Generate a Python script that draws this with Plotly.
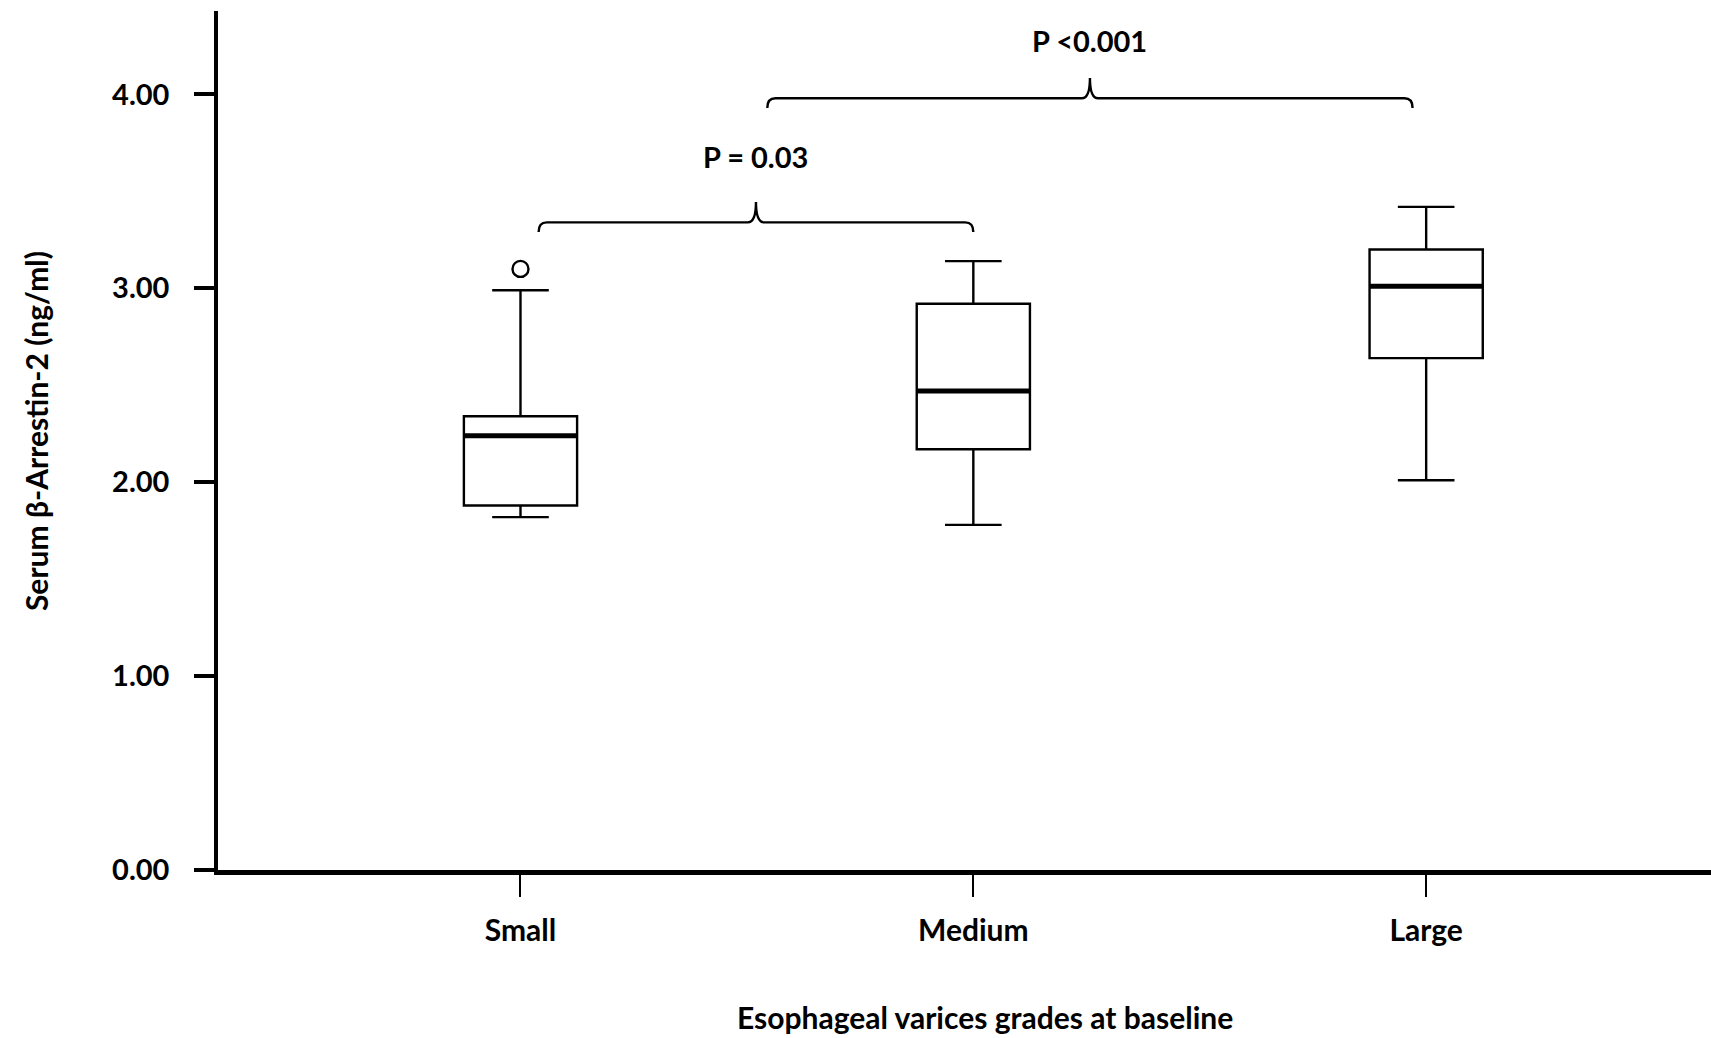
import plotly.graph_objects as go

# ---- data ----
categories = ["Small", "Medium", "Large"]
lower_whisker = [1.82, 1.78, 2.01]
q1_values = [1.88, 2.17, 2.64]
median_values = [2.24, 2.47, 3.01]
q3_values = [2.34, 2.92, 3.20]
upper_whisker = [2.99, 3.14, 3.42]
outlier_category = [0]
outlier_values = [3.10]

y_tick_values = [0, 1, 2, 3, 4]
y_tick_labels = ["0.00", "1.00", "2.00", "3.00", "4.00"]

bracket_labels = ["P = 0.03", "P <0.001"]
bracket_left = [0.04, 0.545]
bracket_right = [1.0, 1.97]
bracket_level = [3.34, 3.98]
bracket_label_level = [3.68, 4.28]

x_title = "Esophageal varices grades at baseline"
y_title = "Serum β-Arrestin-2 (ng/ml)"

# ---- styling ----
FONT = "Lato"
BOX_W = 0.25
positions = list(range(len(categories)))

fig = go.Figure()

fig.add_trace(go.Box(
    x=positions,
    q1=q1_values, median=median_values, q3=q3_values,
    lowerfence=lower_whisker, upperfence=upper_whisker,
    width=BOX_W, whiskerwidth=0.5,
    line=dict(color="black", width=2.4),
    fillcolor="rgba(255,255,255,0)",
    boxpoints=False, showlegend=False, hoverinfo="skip",
))

# thicker median lines
for i, m in zip(positions, median_values):
    fig.add_trace(go.Scatter(
        x=[i - BOX_W / 2, i + BOX_W / 2], y=[m, m], mode="lines",
        line=dict(color="black", width=5), showlegend=False, hoverinfo="skip",
    ))

# outlier
fig.add_trace(go.Scatter(
    x=outlier_category, y=outlier_values, mode="markers",
    marker=dict(symbol="circle-open", size=16, color="black", line=dict(width=2.4)),
    showlegend=False, hoverinfo="skip",
))

# brackets
drop = 0.05
peak = 0.105
rx = 0.018
for xl, xr, yb, ylab, lab in zip(bracket_left, bracket_right, bracket_level,
                                 bracket_label_level, bracket_labels):
    xm = (xl + xr) / 2
    path = (
        f"M {xl},{yb - drop} Q {xl},{yb} {xl + rx},{yb} "
        f"L {xm - rx},{yb} Q {xm},{yb} {xm},{yb + peak} "
        f"Q {xm},{yb} {xm + rx},{yb} L {xr - rx},{yb} "
        f"Q {xr},{yb} {xr},{yb - drop}"
    )
    fig.add_shape(type="path", path=path, xref="x", yref="y",
                  line=dict(color="black", width=2.4))
    fig.add_annotation(x=xm, y=ylab, xref="x", yref="y", text=lab,
                       showarrow=False, xanchor="center", yanchor="middle",
                       font=dict(family=FONT, size=29, color="black", weight="bold"))

# axis titles
fig.add_annotation(x=0.514, y=-0.171, xref="paper", yref="paper", text=x_title,
                   showarrow=False, xanchor="center", yanchor="middle",
                   font=dict(family=FONT, size=30, color="black", weight="bold"))
fig.add_annotation(x=-0.1219, y=0.511, xref="paper", yref="paper", text=y_title,
                   showarrow=False, textangle=-90, xanchor="center", yanchor="middle",
                   font=dict(family=FONT, size=30, color="black", weight="bold"))

fig.update_layout(
    width=1711, height=1038,
    margin=dict(l=218, r=0, t=11, b=168),
    paper_bgcolor="white", plot_bgcolor="white",
    xaxis=dict(
        range=[-0.668, 2.629], tickvals=positions, ticktext=categories,
        showline=True, linecolor="black", linewidth=4.5,
        ticks="outside", ticklen=22, tickwidth=2, tickcolor="black",
        showgrid=False, zeroline=False, ticklabelstandoff=8,
        tickfont=dict(family=FONT, size=30, color="black", weight="bold"),
    ),
    yaxis=dict(
        range=[0, 4.43], tickvals=y_tick_values, ticktext=y_tick_labels,
        showline=True, linecolor="black", linewidth=3.5,
        ticks="outside", ticklen=20, tickwidth=3.5, tickcolor="black",
        showgrid=False, zeroline=False, ticklabelstandoff=19,
        tickfont=dict(family=FONT, size=29, color="black", weight="bold"),
    ),
)

fig.write_html(
    "out.html",
    config={"displayModeBar": False},
    post_script="document.body.style.margin='0';document.body.style.overflow='hidden';",
)
